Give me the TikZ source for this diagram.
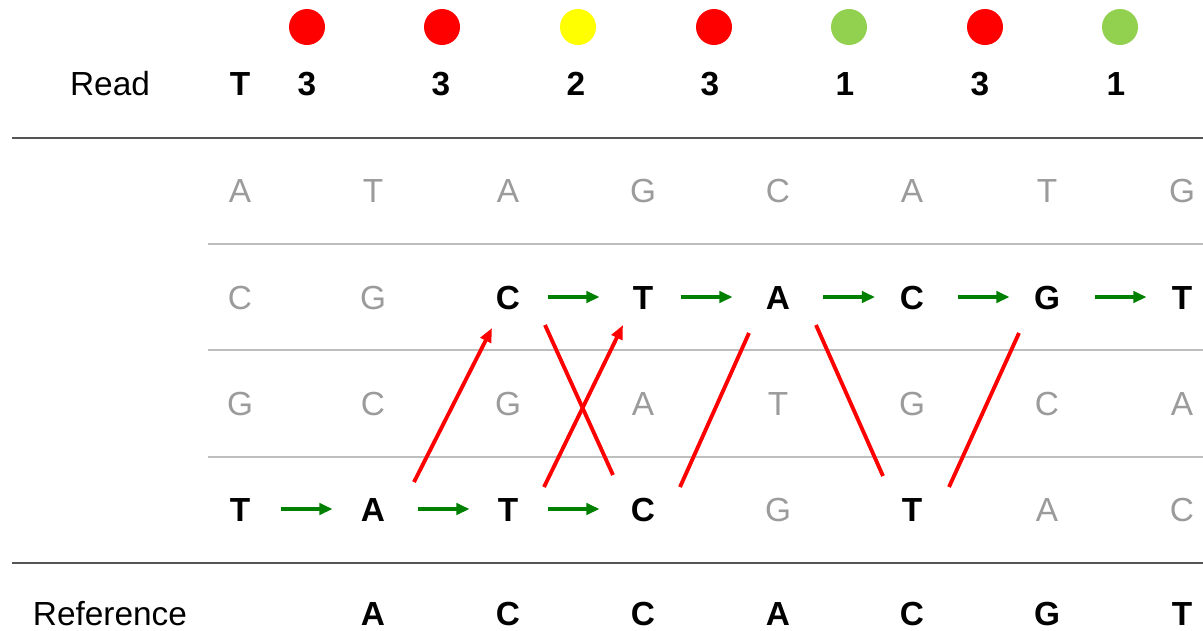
\documentclass[tikz,border=0pt]{standalone}
\usepackage{fontspec}
\setmainfont{Liberation Sans}
\usetikzlibrary{calc,arrows.meta}
\definecolor{gridgray}{RGB}{190,190,190}
\definecolor{rulegray}{RGB}{85,85,85}
\definecolor{letgray}{RGB}{155,155,155}
\definecolor{dotred}{RGB}{255,0,0}
\definecolor{dotyellow}{RGB}{255,255,0}
\definecolor{dotgreen}{RGB}{146,208,80}
\definecolor{arrgreen}{RGB}{0,128,0}
\definecolor{linered}{RGB}{255,0,0}
\newlength{\unitpx}
\setlength{\unitpx}{0.02cm}
\tikzset{
  base/.style={anchor=base,inner sep=0pt,font=\fontsize{19}{22}\selectfont},
  ltr/.style={base,text=letgray},
  bold/.style={base,text=black,font=\fontsize{19}{22}\selectfont\bfseries},
  lbl/.style={base,text=black},
  dot/.style={circle,minimum size=36\unitpx,inner sep=0pt},
  garrow/.style={draw=arrgreen,line width=1.9pt,-{Triangle[length=7.5pt,width=6.5pt]}},
  redline/.style={draw=linered,line width=2.2pt},
  redarrow/.style={redline,-{Triangle[length=8pt,width=6.5pt]}},
  gridline/.style={draw=gridgray,line width=1.1pt},
  ruleline/.style={draw=rulegray,line width=1.2pt}
}
\begin{document}
\begin{tikzpicture}[x=0.02cm,y=-0.02cm]
\useasboundingbox (0,0) rectangle (1203,630);
% circles
\foreach \x/\c [count=\i] in {307/dotred,442/dotred,578/dotyellow,714/dotred,849/dotgreen,985/dotred,1120/dotgreen}
  \node[dot,fill=\c] (dot\i) at (\x,27) {};
% read row
\node[lbl] (readlbl) at (110,95) {Read};
\node[bold] (readT) at (240,95) {T};
\foreach \x/\n [count=\i] in {307/3,441/3,576/2,710/3,845/1,980/3,1116/1}
  \node[bold] (rd\i) at (\x,95) {\n};
% rules
\coordinate (tl) at (12,138); \coordinate (tr) at (1203,138);
\coordinate (bl) at (12,563); \coordinate (br) at (1203,563);
\draw[ruleline] (tl) -- (tr);
\draw[ruleline] (bl) -- (br);
\foreach \y [count=\i] in {244,350,457} {
  \coordinate (gl\i) at (208,\y); \coordinate (gr\i) at (1203,\y);
  \draw[gridline] (gl\i) -- (gr\i);
}
% row 1
\foreach \x/\l [count=\i] in {240/A,373/T,508/A,643/G,778/C,912/A,1047/T,1182/G}
  \node[ltr] (r1c\i) at (\x,202) {\l};
% row 2
\node[ltr] (r2c1) at (240,309) {C};
\node[ltr] (r2c2) at (373,309) {G};
\foreach \x/\l [count=\i from 3] in {508/C,643/T,778/A,912/C,1047/G,1182/T}
  \node[bold] (r2c\i) at (\x,309) {\l};
% row 3
\foreach \x/\l [count=\i] in {240/G,373/C,508/G,643/A,778/T,912/G,1047/C,1182/A}
  \node[ltr] (r3c\i) at (\x,415) {\l};
% row 4
\node[bold] (r4c1) at (240,521) {T};
\node[bold] (r4c2) at (373,521) {A};
\node[bold] (r4c3) at (508,521) {T};
\node[bold] (r4c4) at (643,521) {C};
\node[ltr] (r4c5) at (778,521) {G};
\node[bold] (r4c6) at (912,521) {T};
\node[ltr] (r4c7) at (1047,521) {A};
\node[ltr] (r4c8) at (1182,521) {C};
% reference row
\node[lbl] (reflbl) at (110,625) {Reference};
\foreach \x/\l [count=\i from 2] in {373/A,508/C,643/C,778/A,912/C,1047/G,1182/T}
  \node[bold] (ref\i) at (\x,625) {\l};
% green arrows row 4
\draw[garrow] ($(r4c1.base)!0.5!(r4c2.base)+(-26,-12)$) -- ($(r4c1.base)!0.5!(r4c2.base)+(26,-12)$);
\draw[garrow] ($(r4c2.base)!0.5!(r4c3.base)+(-23,-12)$) -- ($(r4c2.base)!0.5!(r4c3.base)+(29,-12)$);
\draw[garrow] ($(r4c3.base)!0.5!(r4c4.base)+(-28,-12)$) -- ($(r4c3.base)!0.5!(r4c4.base)+(24,-12)$);
% green arrows row 2
\draw[garrow] ($(r2c3.base)!0.5!(r2c4.base)+(-28,-12)$) -- ($(r2c3.base)!0.5!(r2c4.base)+(24,-12)$);
\draw[garrow] ($(r2c4.base)!0.5!(r2c5.base)+(-30,-12)$) -- ($(r2c4.base)!0.5!(r2c5.base)+(22,-12)$);
\draw[garrow] ($(r2c5.base)!0.5!(r2c6.base)+(-22,-12)$) -- ($(r2c5.base)!0.5!(r2c6.base)+(30,-12)$);
\draw[garrow] ($(r2c6.base)!0.5!(r2c7.base)+(-22,-12)$) -- ($(r2c6.base)!0.5!(r2c7.base)+(30,-12)$);
\draw[garrow] ($(r2c7.base)!0.5!(r2c8.base)+(-20,-12)$) -- ($(r2c7.base)!0.5!(r2c8.base)+(32,-12)$);
% red connectors
\draw[redarrow] ($(r4c2.base)+(41,-39)$) -- ($(r2c3.base)+(-16,19)$);
\draw[redline]  ($(r2c3.base)+(37,16)$) -- ($(r4c4.base)+(-30,-46)$);
\draw[redarrow] ($(r4c3.base)+(36,-34)$) -- ($(r2c4.base)+(-20,16)$);
\draw[redline]  ($(r4c4.base)+(37,-34)$) -- ($(r2c5.base)+(-29,24)$);
\draw[redline]  ($(r2c5.base)+(38,16)$) -- ($(r4c6.base)+(-29,-45)$);
\draw[redline]  ($(r4c6.base)+(37,-34)$) -- ($(r2c7.base)+(-28,24)$);
\end{tikzpicture}
\end{document}
